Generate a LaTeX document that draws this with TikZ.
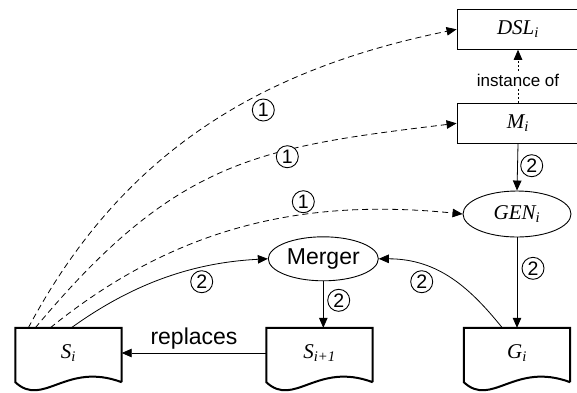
\documentclass[tikz,border=0pt]{standalone}
\usepackage{fontspec}
\setmainfont{Liberation Serif}
\newfontfamily\arialf{Liberation Sans}
\usetikzlibrary{arrows.meta,calc,shapes.geometric}
\tikzset{
  lbl/.style={font=\itshape\fontsize{21}{24}\selectfont},
  boxnode/.style={lbl, draw, line width=0.9pt, minimum width=122pt, minimum height=40pt, inner sep=0pt},
  ellnode/.style={draw, ellipse, line width=0.9pt, inner sep=0pt},
  docnode/.style={lbl, minimum width=106pt, minimum height=50pt, inner sep=0pt},
  docline/.style={line width=2pt, line join=miter},
  conn/.style={line width=0.8pt, -{Triangle[length=10pt,width=8.5pt]}},
  dsh/.style={conn, dash pattern=on 6pt off 4pt},
  dotline/.style={conn, dash pattern=on 2pt off 2pt},
  num/.style={circle, draw, line width=0.9pt, minimum size=22pt, inner sep=0pt, fill=white, font=\arialf\fontsize{19.5}{19.5}\selectfont},
  sans/.style={font=\arialf\fontsize{23}{26}\selectfont}
}
\begin{document}
\begin{tikzpicture}[x=1pt,y=-1pt]
\useasboundingbox (0,0) rectangle (577,392);
% nodes
\node[boxnode] (dsl) at (518,29.3) {DSL\textsubscript{i}};
\node[boxnode] (m) at (518,123.3) {M\textsubscript{i}};
\node[ellnode, lbl, minimum width=108pt, minimum height=46pt] (gen) at (517,214) {GEN\textsubscript{i}};
\node[ellnode, sans, minimum width=110pt, minimum height=44pt] (mg) at (323.3,258.8) {Merger};
\node[docnode] (si) at (68.5,353) {S\textsubscript{i}};
\node[docnode] (sn) at (319.5,353) {S\textsubscript{i+1}};
\node[docnode] (gi) at (517,353) {G\textsubscript{i}};
% document outlines
\foreach \n in {si,sn,gi}{
  \draw[docline] ($(\n.south east)+(0,4)$) -- (\n.north east) -- (\n.north west) -- ($(\n.south west)+(0,4)$)
    .. controls +(28,26) and +(-56,-21) .. ($(\n.south east)+(0,4)$);
}
% connectors
\draw[dotline] (m.north) -- node[pos=0.43, fill=white, inner sep=1pt, font=\arialf\fontsize{17}{19}\selectfont] (inst) {instance of} (dsl.south);
\draw[conn] (m.south) -- (gen.north);
\draw[conn] (gen.south) -- (gen.south |- gi.north);
\draw[conn] (mg.south) -- (mg.south |- sn.north);
\draw[conn] (sn.west) -- node[above=0pt, sans] (rep) {replaces} (si.east);
\draw[dsh] ([xshift=13pt]si.north west) .. controls +(94,-176) and +(-196,40) .. (dsl.west);
\draw[dsh] ([xshift=20pt]si.north west) .. controls +(141,-169) and +(-198,24) .. (m.west);
\draw[dsh] ([xshift=35pt]si.north west) .. controls +(132,-107) and +(-149,-15) .. (gen.west);
\draw[conn] ([xshift=56pt]si.north west) .. controls +(57,-41) and +(-80,4) .. (mg.west);
\draw[conn] ([xshift=38.5pt]gi.north west) .. controls +(-31.5,-39) and +(60,0) .. (mg.east);
% step labels
\node[num] (a1) at (263.3,110) {1};
\node[num] (a2) at (287.3,156.7) {1};
\node[num] (a3) at (303.3,201.7) {1};
\node[num] (b1) at (531.7,165.7) {2};
\node[num] (b2) at (533,268.3) {2};
\node[num] (b3) at (338.7,300.3) {2};
\node[num] (b4) at (201.7,281.7) {2};
\node[num] (b5) at (421.7,281.7) {2};
\end{tikzpicture}
\end{document}
